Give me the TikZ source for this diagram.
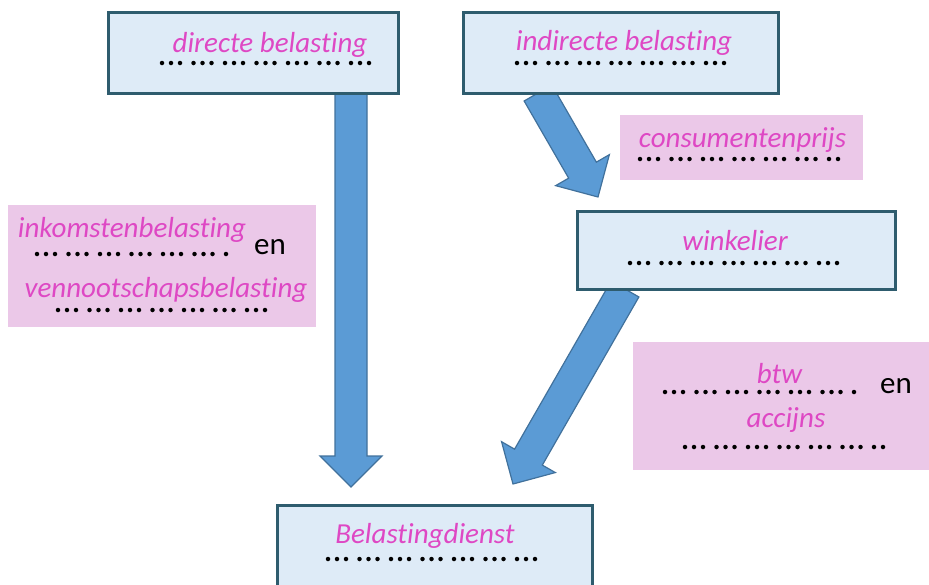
\documentclass[tikz,border=0pt]{standalone}
\usepackage{fontspec}
\setmainfont{Carlito}[Ligatures={NoCommon}]
\usetikzlibrary{calc}

\definecolor{boxfill}{RGB}{222,235,247}
\definecolor{boxline}{RGB}{46,92,110}
\definecolor{notefill}{RGB}{235,200,232}
\definecolor{answer}{RGB}{222,72,196}
\definecolor{arrowfill}{RGB}{91,155,213}
\definecolor{arrowline}{RGB}{65,113,156}

% blokpijl van #1 (begin) naar #2 (punt)
\newcommand{\blockarrow}[2]{%
	\coordinate (hb) at ($(#2)!31pt!(#1)$);
	\draw[arrowshape] ($(#1)!16pt!90:(#2)$) -- ($(hb)!16pt!90:(#2)$) -- ($(hb)!31pt!90:(#2)$)
		-- (#2) -- ($(hb)!31pt!-90:(#2)$) -- ($(hb)!16pt!-90:(#2)$) -- ($(#1)!16pt!-90:(#2)$) -- cycle;
}

\begin{document}
\begin{tikzpicture}[x=1pt, y=-1pt,
	taxbox/.style={draw=boxline, line width=3pt, fill=boxfill, inner sep=0pt},
	notebox/.style={fill=notefill, inner sep=0pt},
	arrowshape/.style={draw=arrowline, line width=1.2pt, fill=arrowfill, line join=miter},
	answerlabel/.style={anchor=base, inner sep=0pt, text=answer, font=\fontsize{29}{35}\selectfont\itshape},
	wordlabel/.style={anchor=base, inner sep=0pt, font=\fontsize{31}{37}\selectfont},
	dotrow/.style={line width=4.5pt, line cap=round, dash pattern=on 0pt off 9pt on 0pt off 9pt on 0pt off 13.5pt}]
	\useasboundingbox (0,0) rectangle (929,584);
	\clip (0,0) rectangle (929,584);
	
	% Notities
	\node[notebox, minimum width=308pt, minimum height=122pt] (nleft) at (162,266) {};
	\node[notebox, minimum width=243pt, minimum height=65pt] (nprice) at (741.5,147.5) {};
	\node[notebox, minimum width=300pt, minimum height=128pt] (nbtw) at (783,406) {};
	
	% Pijlen
	\coordinate (a1) at (351,93);
	\coordinate (t1) at (351,487);
	\coordinate (a2) at (538,93);
	\coordinate (t2) at (598,197);
	\coordinate (a3) at (625,289);
	\coordinate (t3) at (513,484);
	\blockarrow{a1}{t1}
	\blockarrow{a2}{t2}
	\blockarrow{a3}{t3}
	
	% Vakken
	\node[taxbox, minimum width=290pt, minimum height=81pt] (directe) at (253,52.5) {};
	\node[taxbox, minimum width=315pt, minimum height=81pt] (indirecte) at (620.5,52.5) {};
	\node[taxbox, minimum width=318pt, minimum height=78pt] (winkelier) at (736,250) {};
	\node[taxbox, minimum width=315pt, minimum height=90pt] (dienst) at (434.5,550) {};
	
	% Teksten
	\node[answerlabel] (ldirecte) at (270,52) {directe belasting};
	\draw[dotrow] (162,63) -- (375,63);
	\node[answerlabel] (lindirecte) at (624,50) {indirecte belasting};
	\draw[dotrow] (517,63) -- (729,63);
	\node[answerlabel] (lprice) at (742.5,147) {consumentenprijs};
	\draw[dotrow] (640,159) -- (845,159);
	\node[answerlabel] (lwinkel) at (735,250) {winkelier};
	\draw[dotrow] (630,263) -- (842,263);
	\node[answerlabel] (linkomst) at (132,237) {inkomstenbelasting};
	\draw[dotrow] (37,254) -- (230,254);
	\node[wordlabel] (en1) at (270,254) {en};
	\node[answerlabel] (lvennoot) at (166,297) {vennootschapsbelasting};
	\draw[dotrow] (58,310) -- (265,310);
	\node[answerlabel] (lbtw) at (779.5,383) {btw};
	\draw[dotrow] (665,392) -- (857,392);
	\node[wordlabel] (en2) at (896,393) {en};
	\node[answerlabel] (laccijns) at (786,427) {accijns};
	\draw[dotrow] (685,447) -- (888,447);
	\node[answerlabel] (ldienst) at (425,543) {Belastingdienst};
	\draw[dotrow] (328,559) -- (540,559);
	
\end{tikzpicture}
\end{document}
